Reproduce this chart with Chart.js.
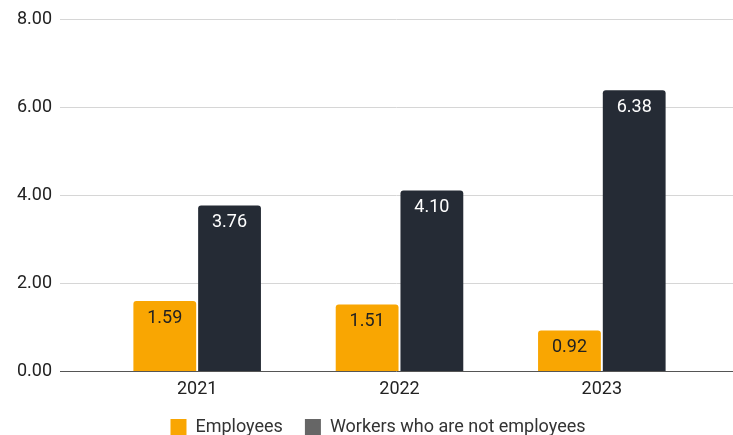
<!DOCTYPE html>
<html>
<head>
<meta charset="utf-8">
<script src="https://cdn.jsdelivr.net/npm/chart.js@4/dist/chart.umd.min.js"></script>
<style>
  html, body { margin: 0; padding: 0; background: #fff; }
  #wrap { width: 733px; height: 435px; }
</style>
</head>
<body>
<div id="wrap"><canvas id="grafico"></canvas></div>
<script>
const anos = ["2021", "2022", "2023"];
const empregados = [1.59, 1.51, 0.92];
const naoEmpregados = [3.76, 4.10, 6.38];
const ticksY = [0, 2, 4, 6, 8];

const LARANJA = "#F9A602";
const ESCURO = "#252B35";
const FONTE = "Roboto, 'Noto Sans', sans-serif";

// linhas de grade horizontais ocupando a largura toda (não só a área do gráfico)
const gradeLarga = {
  id: "gradeLarga",
  beforeDatasetsDraw(chart) {
    const { ctx, scales: { y } } = chart;
    ctx.save();
    ticksY.forEach(v => {
      const py = Math.round(y.getPixelForValue(v)) + 0.5;
      ctx.strokeStyle = v === 0 ? "#555" : "#d6d6d6";
      ctx.lineWidth = 1;
      ctx.beginPath();
      ctx.moveTo(60, py);
      ctx.lineTo(chart.width, py);
      ctx.stroke();
    });
    ctx.restore();
  },
};

// legenda um pouco deslocada para a direita
const legendaDireita = {
  id: "legendaDireita",
  afterLayout(chart) {
    chart.legend.left += 18;
    chart.legend.right += 18;
  },
};

// valor escrito dentro de cada barra, perto do topo
const rotulos = {
  id: "rotulos",
  afterDatasetsDraw(chart) {
    const { ctx } = chart;
    ctx.save();
    ctx.font = `18px ${FONTE}`;
    ctx.textAlign = "center";
    ctx.textBaseline = "middle";
    chart.data.datasets.forEach((ds, i) => {
      chart.getDatasetMeta(i).data.forEach((bar, j) => {
        ctx.fillStyle = i === 0 ? "#222" : "#fff";
        ctx.fillText(ds.data[j].toFixed(2), bar.x, bar.y + 17);
      });
    });
    ctx.restore();
  },
};

new Chart(document.getElementById("grafico"), {
  type: "bar",
  data: {
    labels: anos,
    datasets: [
      { label: "Employees", data: empregados, backgroundColor: LARANJA },
      { label: "Workers who are not employees", data: naoEmpregados, backgroundColor: ESCURO },
    ],
  },
  options: {
    responsive: true, maintainAspectRatio: false, animation: false,
    layout: { padding: { top: 19, right: 30, left: 17, bottom: -11 } },
    datasets: {
      bar: {
        categoryPercentage: 0.64, barPercentage: 0.97,
        borderRadius: { topLeft: 3, topRight: 3 }, borderSkipped: "bottom",
      },
    },
    scales: {
      x: {
        afterFit(s) { s.height = 25; },
        grid: { display: false },
        border: { display: false },
        ticks: { color: "#222", font: { family: FONTE, size: 18 }, padding: 0 },
      },
      y: {
        min: 0, max: 8,
        afterFit(s) { s.width = 79; },
        afterBuildTicks(s) { s.ticks = ticksY.map(v => ({ value: v })); },
        grid: { display: false },
        border: { display: false },
        ticks: {
          color: "#222", font: { family: FONTE, size: 18 }, padding: 0,
          crossAlign: "far",
          callback: v => v.toFixed(2),
        },
      },
    },
    plugins: {
      tooltip: { enabled: false },
      legend: {
        position: "bottom",
        labels: {
          color: "#333", font: { family: FONTE, size: 18 },
          boxWidth: 16, boxHeight: 16, padding: 22,
          generateLabels(chart) {
            const itens = Chart.defaults.plugins.legend.labels.generateLabels(chart);
            itens.forEach((it, i) => {
              it.fillStyle = i === 0 ? LARANJA : "#666";
              it.strokeStyle = it.fillStyle;
              it.lineWidth = 0;
            });
            return itens;
          },
        },
      },
    },
  },
  plugins: [gradeLarga, legendaDireita, rotulos],
});
</script>
</body>
</html>
